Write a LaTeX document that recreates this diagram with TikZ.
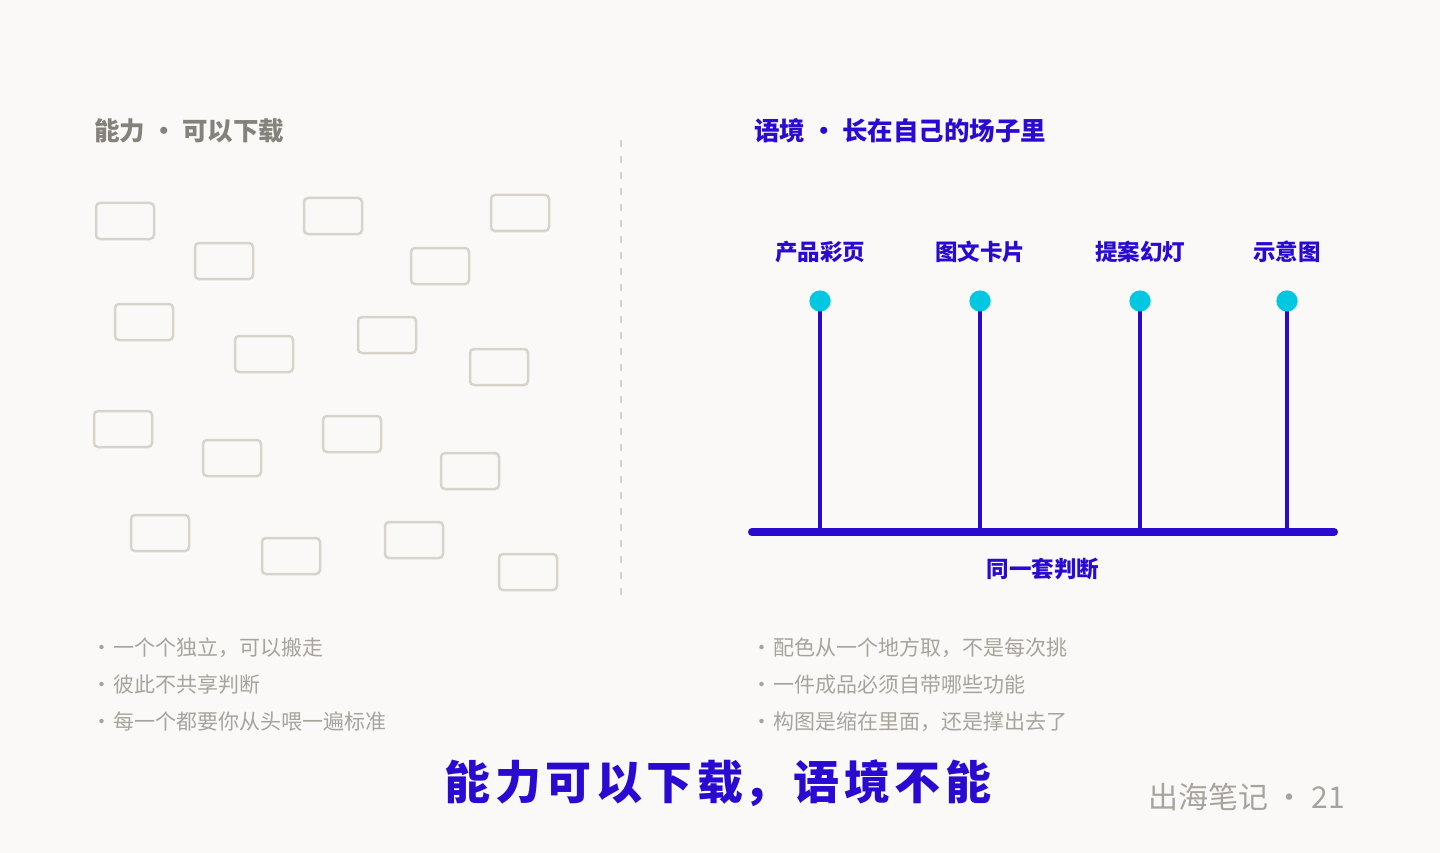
\documentclass[tikz,border=0pt]{standalone}
\usepackage{fontspec}
\setmainfont{Noto Sans CJK SC}
\newfontfamily\cjk{Noto Sans CJK SC}
\definecolor{bg}{HTML}{FAF9F7}
\definecolor{boxc}{HTML}{D8D4CC}
\definecolor{gtitle}{HTML}{85827B}
\definecolor{gtext}{HTML}{A8A49D}
\definecolor{blu}{HTML}{2A0AD0}
\definecolor{cyn}{HTML}{00C8E0}
\begin{document}
\begin{tikzpicture}[x=1pt,y=-1pt,
  card/.style={draw=boxc,line width=2.5pt,rounded corners=4pt,minimum width=58pt,minimum height=36pt,inner sep=0pt},
  lbl/.style={text=blu,font=\fontsize{22.5}{24}\selectfont\bfseries,inner sep=0pt},
  bul/.style={text=gtext,font=\fontsize{21}{23}\selectfont,anchor=west,inner sep=0pt},
  stem/.style={draw=blu,line width=3.5pt},
  dot/.style={circle,fill=cyn,minimum size=21pt,inner sep=0pt}]
\fill[bg] (0,0) rectangle (1440,853);
\useasboundingbox (0,0) rectangle (1440,853);
\node[anchor=west,text=gtitle,font=\fontsize{25.5}{27}\selectfont\bfseries,inner sep=0pt] (tl) at (94,131) {能力 · 可以下载};
\node[anchor=west,text=blu,font=\fontsize{25.5}{27}\selectfont\bfseries,inner sep=0pt] (tr) at (754,131) {语境 · 长在自己的场子里};
\foreach \n/\x/\y in {a/125/221,b/333/216,c/520/213,d/224/261,e/440/266,f/144/322,g/264/354,h/387/335,i/499/367,j/123/429,k/232/458,l/352/434,m/470/471,n/160/533,o/291/556,p/414/540,q/528/572}
  \node[card] (\n) at (\x,\y) {};
\coordinate (d1) at (621,140); \coordinate (d2) at (621,602);
\draw[boxc,line width=1.5pt,dash pattern=on 7pt off 9pt] (d1) -- (d2);
\coordinate (bl) at (752,532); \coordinate (br) at (1334,532);
\draw[blu,line width=8pt,line cap=round] (bl) -- (br);
\foreach \n/\x/\t in {s1/820/产品彩页,s2/980/图文卡片,s3/1140/提案幻灯,s4/1287/示意图}{
  \coordinate (\n b) at (\x,532);
  \node[dot] (\n) at (\x,301) {};
  \draw[stem] (\n.center) -- (\n b);
  \node[dot] at (\x,301) {};
  \node[lbl] (\n l) at (\x,252) {\t};
}
\node[lbl] (base) at (1043,569) {同一套判断};
\foreach \y/\t [count=\i] in {648/一个个独立，可以搬走,685/彼此不共享判断,722/每一个都要你从头喂一遍标准}
  \node[bul] (lb\i) at (91,\y) {·\hspace{1pt}\t};
\foreach \y/\t [count=\i] in {648/配色从一个地方取，不是每次挑,685/一件成品必须自带哪些功能,722/构图是缩在里面，还是撑出去了}
  \node[bul] (rb\i) at (751,\y) {·\hspace{1pt}\t};
\node[text=blu,font=\fontsize{46}{50}\selectfont\bfseries,inner sep=0pt] (main) at (718,783) {能\kern4.5pt 力\kern4.5pt 可\kern4.5pt 以\kern4.5pt 下\kern4.5pt 载，\kern4.5pt 语\kern4.5pt 境\kern4.5pt 不\kern4.5pt 能};
\node[anchor=east,text=gtext,font=\fontsize{30}{32}\selectfont,inner sep=0pt] (foot) at (1345,797) {出海笔记 · 21};
\end{tikzpicture}
\end{document}
